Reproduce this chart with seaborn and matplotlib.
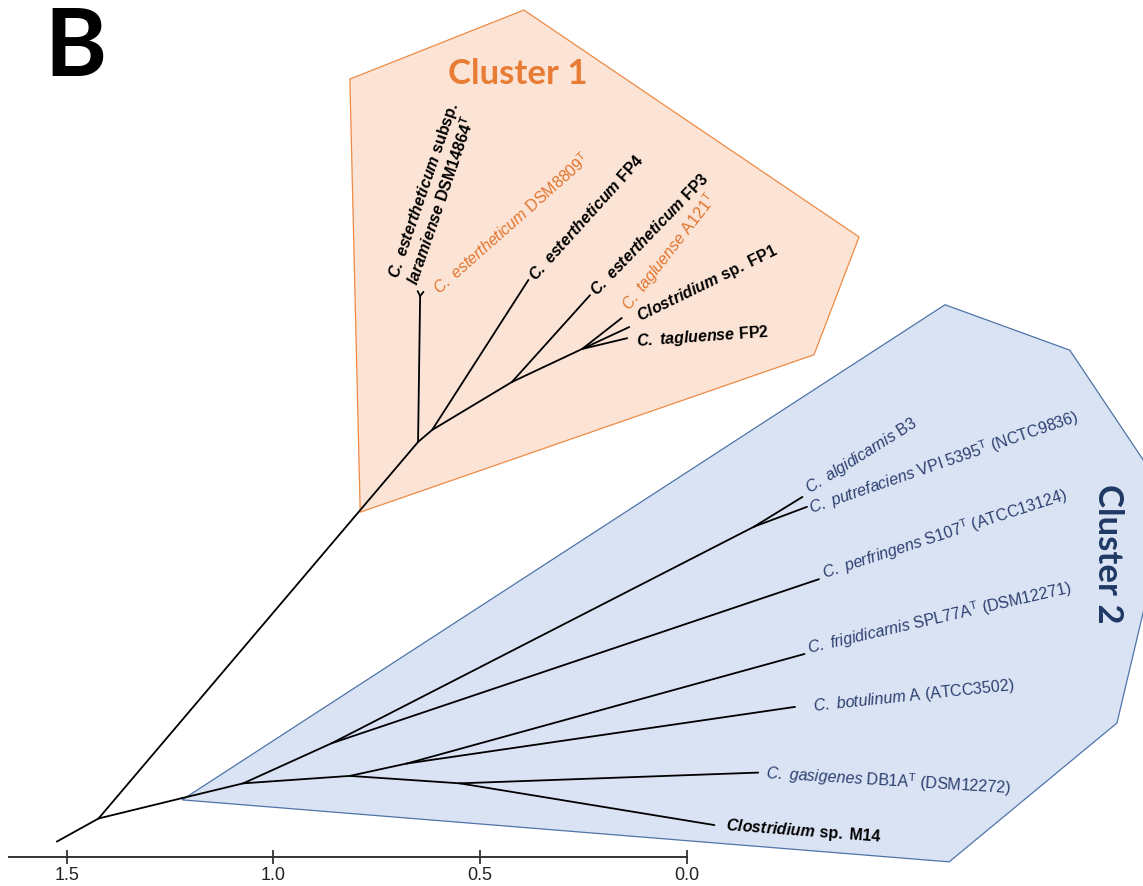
import numpy as np
import pandas as pd
import seaborn as sns
import matplotlib.pyplot as plt

sns.set_style("white")
plt.rcParams["font.family"] = ["Liberation Sans", "DejaVu Sans"]
plt.rcParams.update({
    "mathtext.fontset": "custom",
    "mathtext.rm": "Liberation Sans",
    "mathtext.it": "Liberation Sans:italic",
    "mathtext.bf": "Liberation Sans:bold",
    "mathtext.bfit": "Liberation Sans:italic:bold",
})

# tree nodes (x = distance on scale bar, y in the same units)
node_names = ["out", "A", "D", "E", "e1", "e2", "F", "FP4", "G", "FP3", "H", "A121", "FP1", "FP2",
              "C", "I", "J", "N", "algid", "putref", "perfr", "K", "L", "frig", "botul", "M", "gasig", "M14"]
node_x = [1.524, 1.423, 0.650, 0.645, 0.651, 0.637, 0.616, 0.383, 0.423, 0.234, 0.253, 0.157, 0.139, 0.144,
          1.222, 1.073, 0.859, -0.163, -0.280, -0.291, -0.320, 0.815, 0.677, -0.285, -0.262, 0.549, -0.173, -0.067]
node_y = [0.038, 0.094, 1.005, 1.358, 1.370, 1.368, 1.034, 1.397, 1.150, 1.360, 1.230, 1.305, 1.283, 1.256,
          0.143, 0.179, 0.276, 0.800, 0.872, 0.848, 0.673, 0.197, 0.227, 0.492, 0.364, 0.179, 0.205, 0.078]
node_parent = ["A", None, "A", "D", "E", "E", "D", "F", "F", "G", "G", "H", "H", "H",
               "A", "C", "I", "J", "N", "N", "J", "I", "K", "L", "L", "K", "M", "M"]

# leaf labels
c1_labels = [
    r"$\mathbfit{C.\ estertheticum}\mathbf{\ subsp.}$" + "\n" + r"$\mathbfit{laramiense}\mathbf{\ DSM14864}^{\mathbf{T}}$",
    r"$\mathit{C.\ estertheticum}\mathrm{\ DSM8809}^{\mathrm{T}}$",
    r"$\mathbfit{C.\ estertheticum}\mathbf{\ FP4}$",
    r"$\mathbfit{C.\ estertheticum}\mathbf{\ FP3}$",
    r"$\mathit{C.\ tagluense}\mathrm{\ A121}^{\mathrm{T}}$",
    r"$\mathbfit{Clostridium}\mathbf{\ sp.\ FP1}$",
    r"$\mathbfit{C.\ tagluense}\mathbf{\ FP2}$",
]
c1_x = [0.686, 0.609, 0.375, 0.226, 0.149, 0.118, 0.121]
c1_y = [1.394, 1.372, 1.401, 1.365, 1.329, 1.305, 1.248]
c1_rot = [71, 41.5, 48, 46, 52, 26, 4]
c1_color = ["black", "#E2752F", "black", "black", "#E2752F", "black", "black"]

c2_labels = [
    r"$\mathit{C.\ algidicarnis}\mathrm{\ B3}$",
    r"$\mathit{C.\ putrefaciens}\mathrm{\ VPI\ 5395}^{\mathrm{T}}\mathrm{\ (NCTC9836)}$",
    r"$\mathit{C.\ perfringens}\mathrm{\ S107}^{\mathrm{T}}\mathrm{\ (ATCC13124)}$",
    r"$\mathit{C.\ frigidicarnis}\mathrm{\ SPL77A}^{\mathrm{T}}\mathrm{\ (DSM12271)}$",
    r"$\mathit{C.\ botulinum}\mathrm{\ A\ (ATCC3502)}$",
    r"$\mathit{C.\ gasigenes}\mathrm{\ DB1A}^{\mathrm{T}}\mathrm{\ (DSM12272)}$",
    r"$\mathbfit{Clostridium}\mathbf{\ sp.\ M14}$",
]
c2_x = [-0.290, -0.298, -0.328, -0.293, -0.306, -0.191, -0.094]
c2_y = [0.889, 0.844, 0.687, 0.506, 0.364, 0.203, 0.078]
c2_rot = [32, 19, 18, 13, 6, -3.5, -4.3]
c2_color = ["#2C3F70"] * 6 + ["black"]

# cluster hulls
hull1_x = [0.815, 0.394, -0.417, -0.308, 0.790]
hull1_y = [1.883, 2.050, 1.501, 1.216, 0.835]
hull2_x = [1.221, -0.625, -0.927, -1.169, -1.041, -0.635]
hull2_y = [0.139, 1.337, 1.227, 0.865, 0.325, -0.011]

scale_ticks = [1.5, 1.0, 0.5, 0.0]

# build branch table
pos = {n: (x, y) for n, x, y in zip(node_names, node_x, node_y)}
rows = []
for i, (n, p) in enumerate(zip(node_names, node_parent)):
    if p is None:
        continue
    rows.append({"edge": i, "x": pos[p][0], "y": pos[p][1]})
    rows.append({"edge": i, "x": pos[n][0], "y": pos[n][1]})
branches = pd.DataFrame(rows)

fig = plt.figure(figsize=(11.43, 8.86), dpi=100)
ax = fig.add_axes([0, 0, 1, 1])

ax.fill(hull1_x, hull1_y, facecolor="#FBE4D5", edgecolor="#EE8A45", lw=0.9, zorder=0)
ax.fill(hull2_x, hull2_y, facecolor="#DAE3F3", edgecolor="#4F74A8", lw=0.9, zorder=0)

sns.lineplot(data=branches, x="x", y="y", units="edge", estimator=None, sort=False,
             color="black", lw=1.3, ax=ax, zorder=2)

for s, x, y, r, c in zip(c1_labels, c1_x, c1_y, c1_rot, c1_color):
    ax.text(x, y, s, rotation=r, rotation_mode="anchor", ha="left", va="center",
            fontsize=11.5, color=c, linespacing=1.0, zorder=3)
for s, x, y, r, c in zip(c2_labels, c2_x, c2_y, c2_rot, c2_color):
    ax.text(x, y, s, rotation=r, rotation_mode="anchor", ha="left", va="center",
            fontsize=11.5, color=c, zorder=3)

ax.text(0.408, 1.895, "Cluster 1", fontsize=25, fontweight="bold", family=["Lato", "DejaVu Sans"],
        color="#E87C34", ha="center", va="center")
ax.text(-1.019, 0.734, "Cluster 2", fontsize=25, fontweight="bold", family=["Lato", "DejaVu Sans"],
        color="#1F3864", ha="center", va="center", rotation=-90)
ax.text(1.478, 1.956, "B", fontsize=68, fontweight="bold", family=["Lato", "DejaVu Sans"],
        color="black", ha="center", va="center")

# scale bar as the x axis
ax.set_xlim(1.6615, -1.1040)
ax.set_ylim(-0.0694, 2.0743)
ax.set_xticks(scale_ticks)
ax.set_xticklabels([f"{t:.1f}" for t in scale_ticks])
ax.set_yticks([])
ax.set_xlabel("")
ax.set_ylabel("")
for side in ["left", "top", "right"]:
    ax.spines[side].set_visible(False)
ax.spines["bottom"].set_position(("data", 0))
ax.spines["bottom"].set_bounds(0, 1.64)
ax.spines["bottom"].set_linewidth(1.4)
ax.spines["bottom"].set_color("#333333")
ax.tick_params(axis="x", bottom=True, direction="inout", length=9.5, width=1.2, pad=2,
               labelsize=13, colors="#222222")
ax.patch.set_alpha(0)

fig.savefig("out.png", dpi=100)
